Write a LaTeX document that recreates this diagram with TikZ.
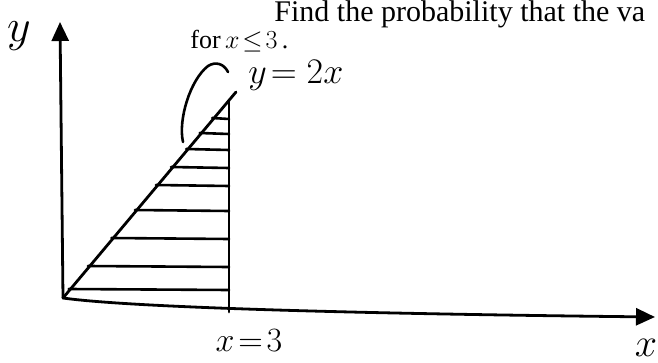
\RequirePackage{fix-cm}
\documentclass[tikz,border=0pt]{standalone}
\usepackage{amsmath}
\usepackage{amssymb}
\usepackage{fontspec}
\setmainfont{Liberation Serif}
\usetikzlibrary{arrows.meta}

\begin{document}
\begin{tikzpicture}[x=1pt,y=-1pt,line width=2.8pt,line cap=round,line join=round,
  axisarrow/.style={-{Triangle[length=19pt,width=17pt]}},
  hatch/.style={line width=2.6pt}]
\useasboundingbox (0,0) rectangle (658,363);
\begin{scope}
\clip (0,0) rectangle (658,363);
\coordinate (O) at (63,298);
\coordinate (T) at (236,92);
% axes
\draw[axisarrow] (O) -- (60,22);
\draw[axisarrow] (O) .. controls (120,306) and (300,313) .. (655,317);
% x = 3 and y = 2x
\draw (229,312) -- (229,100);
\draw (O) -- (T);
\foreach \yy in {118,133,149,167,185,210,238,266,289}
{
  \pgfmathsetmacro{\xx}{63+(298-\yy)*0.84-2}
  \draw[hatch] (\xx,\yy) -- (229,\yy+1);
}
% hook to the label
\draw[hatch] (183,142) .. controls (178,120) and (190,80) .. (208,66) .. controls (216,61) and (224,64) .. (228,72);

\draw (273,22) node[anchor=base west][inner sep=0pt][font=\fontsize{30}{34}\selectfont] {Find the probability that the va};
\draw (189,49) node[anchor=base west][inner sep=0pt][font=\fontsize{26}{30}\selectfont] {for\,$x\!\leq\!3$\,.};
\draw (19,36) node[inner sep=0pt][font=\fontsize{46}{50}\selectfont] {$y$};
\draw (247,75) node[anchor=west][inner sep=0pt][font=\fontsize{36}{40}\selectfont] {$y\!=2x$};
\draw (249,341) node[inner sep=0pt][font=\fontsize{34}{38}\selectfont] {$x\!=\!3$};
\draw (646,348) node[inner sep=0pt][font=\fontsize{40}{44}\selectfont] {$x$};
\end{scope}
\end{tikzpicture}
\end{document}
